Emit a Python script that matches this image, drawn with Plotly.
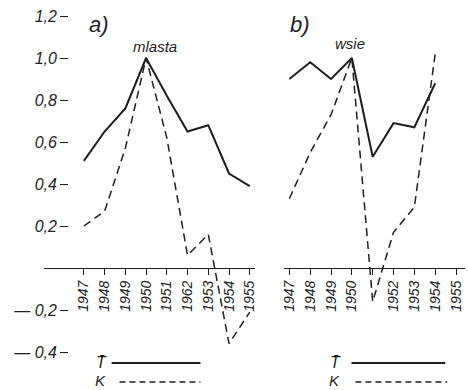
import plotly.graph_objects as go

W, H = 468, 390

years = [1947, 1948, 1949, 1950, 1951, 1952, 1953, 1954, 1955]
ticks_a = ["1947", "1948", "1949", "1950", "1951", "1962", "1953", "1954", "1955"]
ticks_b = ["1947", "1948", "1949", "1950", "", "1952", "1953", "1954", "1955"]

# panel a) miasta
years_a = [1947, 1948, 1949, 1950, 1951, 1952, 1953, 1954, 1955]
T_a = [0.51, 0.65, 0.76, 1.0, 0.82, 0.65, 0.68, 0.45, 0.39]
K_a = [0.20, 0.27, 0.57, 1.0, 0.62, 0.06, 0.16, -0.36, -0.21]

# panel b) wsie
years_b = [1947, 1948, 1949, 1950, 1951, 1952, 1953, 1954]
T_b = [0.90, 0.98, 0.90, 1.0, 0.53, 0.69, 0.67, 0.88]
K_b = [0.33, 0.55, 0.73, 1.0, -0.16, 0.17, 0.29, 1.02]

y_vals = [1.2, 1.0, 0.8, 0.6, 0.4, 0.2, -0.2, -0.4]
y_text = ["1,2", "1,0", "0,8", "0,6", "0,4", "0,2", "\u2014 0,2", "\u2014 0,4"]

INK = "#1e1e1e"
FONT = dict(family="Liberation Sans", size=14, color=INK, style="italic")

fig = go.Figure()
solid = dict(color=INK, width=2)
dashed = dict(color=INK, width=1.5, dash="8px,5px")

fig.add_trace(go.Scatter(x=years_a, y=T_a, mode="lines", line=solid, xaxis="x", yaxis="y", showlegend=False))
fig.add_trace(go.Scatter(x=years_a, y=K_a, mode="lines", line=dashed, xaxis="x", yaxis="y", showlegend=False))
fig.add_trace(go.Scatter(x=years_b, y=T_b, mode="lines", line=solid, xaxis="x2", yaxis="y2", showlegend=False))
fig.add_trace(go.Scatter(x=years_b, y=K_b, mode="lines", line=dashed, xaxis="x2", yaxis="y2", showlegend=False))

y0_px = 268
ppu = 210
yr = [-(H - y0_px) / ppu, y0_px / ppu]
xpos = (H - y0_px) / H

common_x = dict(anchor="free", position=xpos, showline=True, linecolor=INK, linewidth=1.2,
                ticks="outside", ticklen=6, tickwidth=1.2, tickcolor=INK,
                tickangle=-90, tickfont=FONT, showgrid=False, zeroline=False,
                tickvals=years, fixedrange=True)

fig.update_layout(
    width=W, height=H,
    margin=dict(l=0, r=0, t=0, b=0),
    paper_bgcolor="white", plot_bgcolor="white",
    font=FONT,
    xaxis=dict(domain=[42 / W, 255 / W], range=[1945.1, 1955.24], ticktext=ticks_a, **common_x),
    xaxis2=dict(domain=[285 / W, 1.0], range=[1946.76, 1955.43], ticktext=ticks_b, **common_x),
    yaxis=dict(domain=[0, 1], range=yr, anchor="free", position=66 / W, showline=False,
               ticks="outside", ticklen=8, tickwidth=1.2, tickcolor=INK,
               tickvals=y_vals, ticktext=y_text, tickfont=dict(FONT, size=16),
               showgrid=False, zeroline=False),
    yaxis2=dict(domain=[0, 1], range=yr, anchor="x2", visible=False,
                showgrid=False, zeroline=False),
)

def px(x, y):
    return x / W, 1 - y / H

anns = [
    ("a)", 97, 25, 22),
    ("mlasta", 154, 46, 15),
    ("b)", 301, 24, 22),
    ("wsie", 352, 43, 15),
    ("T\u0304", 100, 362, 16),
    ("K", 99, 380, 15),
    ("T\u0304", 337, 362, 16),
    ("K", 336, 380, 15),
]
for t, x, y, s in anns:
    ax, ay = px(x, y)
    fig.add_annotation(x=ax, y=ay, xref="paper", yref="paper", text=t, showarrow=False,
                       font=dict(family="Liberation Sans", size=s, color=INK, style="italic"),
                       xanchor="center", yanchor="middle")

for (x0, x1, y, d) in [(110, 200, 363, "solid"), (118, 200, 382, "dash"),
                       (353, 448, 363, "solid"), (357, 450, 382, "dash")]:
    a0, b0 = px(x0, y)
    a1, _ = px(x1, y)
    fig.add_shape(type="line", xref="paper", yref="paper", x0=a0, x1=a1, y0=b0, y1=b0,
                  line=dict(color=INK, width=2 if d == "solid" else 1.5,
                            dash="solid" if d == "solid" else "6px,4px"))

fig.write_html("out.html", config={"displayModeBar": False},
               post_script="document.body.style.margin='0';document.body.style.overflow='hidden';")
